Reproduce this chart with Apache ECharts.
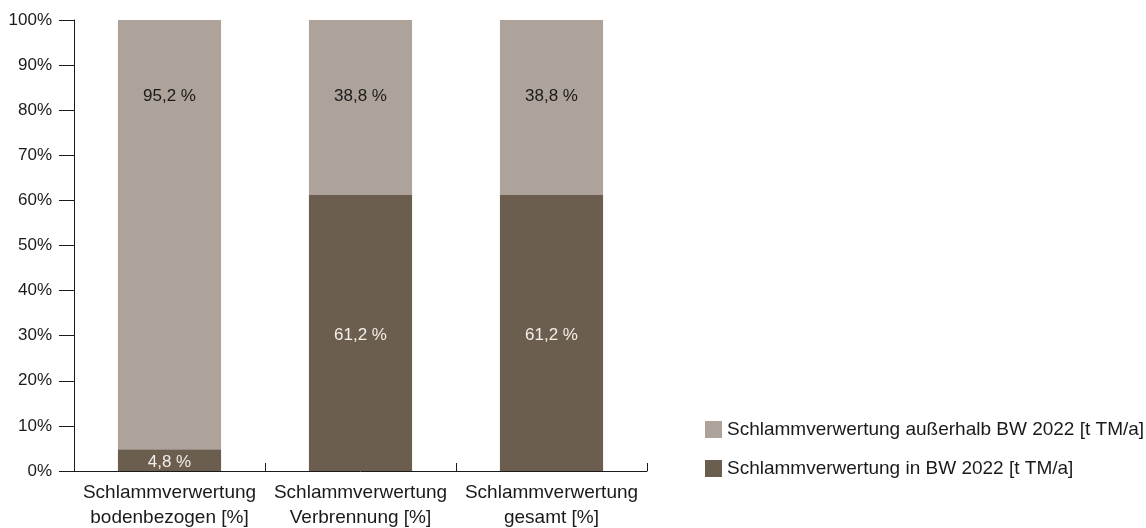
<!DOCTYPE html>
<html>
<head>
<meta charset="utf-8">
<script src="https://cdn.jsdelivr.net/npm/echarts@6/dist/echarts.min.js"></script>
<style>
  html, body { margin: 0; padding: 0; background: #ffffff; }
  #chart { width: 1146px; height: 528px; }
</style>
</head>
<body>
<div id="chart"></div>
<script>
// Categories along the x axis (two-line labels)
const categories = [
  'Schlammverwertung\nbodenbezogen [%]',
  'Schlammverwertung\nVerbrennung [%]',
  'Schlammverwertung\ngesamt [%]'
];

// Shares in percent
const inBW = [4.8, 61.2, 61.2];
const ausserhalbBW = [95.2, 38.8, 38.8];

const seriesNames = [
  'Schlammverwertung in BW 2022 [t TM/a]',
  'Schlammverwertung außerhalb BW 2022 [t TM/a]'
];

const FONT = 'Liberation Sans, Arial, sans-serif';
const TEXT = '#1a1a1a';

const fmt = (p) => p.value.toFixed(1).replace('.', ',') + ' %';

const chart = echarts.init(document.getElementById('chart'));

chart.setOption({
  animation: false,
  backgroundColor: '#ffffff',
  textStyle: { fontFamily: FONT },
  grid: {
    left: 74, right: 499, top: 20, bottom: 57,
    containLabel: false,
    outerBoundsMode: 'none'
  },
  legend: {
    orient: 'vertical',
    left: 700,
    top: 415,
    itemWidth: 17,
    itemHeight: 17,
    itemGap: 20,
    icon: 'rect',
    data: [seriesNames[1], seriesNames[0]],
    textStyle: { fontFamily: FONT, fontSize: 19, color: TEXT }
  },
  xAxis: {
    type: 'category',
    data: categories,
    axisLine: { lineStyle: { color: TEXT, width: 1 } },
    axisTick: { show: true, inside: true, length: 8, lineStyle: { color: TEXT } },
    axisLabel: {
      fontFamily: FONT,
      fontSize: 19,
      lineHeight: 25,
      color: TEXT,
      margin: 9,
      interval: 0
    }
  },
  yAxis: {
    type: 'value',
    min: 0,
    max: 100,
    interval: 10,
    axisLine: { show: true, lineStyle: { color: TEXT, width: 1 } },
    axisTick: { show: true, inside: false, length: 15, lineStyle: { color: TEXT } },
    splitLine: { show: false },
    axisLabel: {
      formatter: '{value}%',
      fontFamily: FONT,
      fontSize: 17,
      color: TEXT,
      margin: 22
    }
  },
  series: [
    {
      name: seriesNames[0],
      type: 'bar',
      stack: 'total',
      barWidth: '54%',
      data: inBW,
      itemStyle: { color: '#6b5e4e' },
      label: {
        show: true,
        position: 'inside',
        offset: [0, 2],
        formatter: fmt,
        fontFamily: FONT,
        fontSize: 17,
        color: '#f2eee9'
      }
    },
    {
      name: seriesNames[1],
      type: 'bar',
      stack: 'total',
      barWidth: '54%',
      data: ausserhalbBW,
      itemStyle: { color: '#ada39a' },
      label: {
        show: true,
        position: 'insideTop',
        distance: 68,
        formatter: fmt,
        fontFamily: FONT,
        fontSize: 17,
        color: TEXT
      }
    }
  ]
});
</script>
</body>
</html>
